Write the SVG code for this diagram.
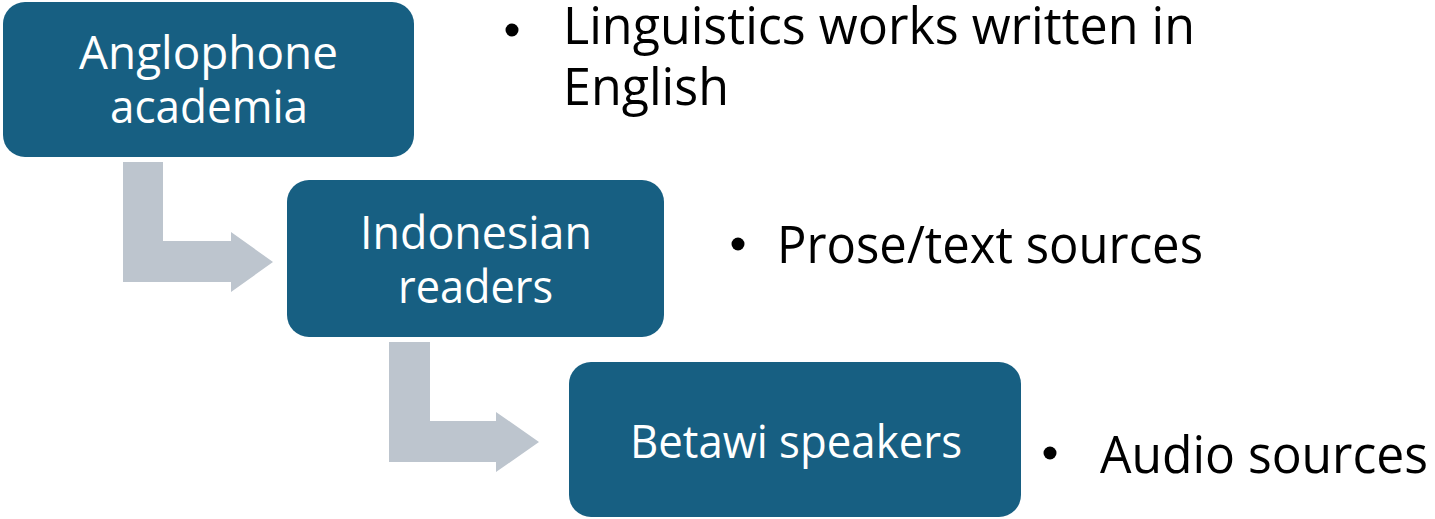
<svg xmlns="http://www.w3.org/2000/svg" width="1435" height="519" viewBox="0 0 1435 519">
<style>
.box{fill:#175F82}
.arrow{fill:#BDC5CE}
.bt{font-family:"Open Sans","Noto Sans",sans-serif;font-size:46px;fill:#FFFFFF;text-anchor:start}
.lt{font-family:"Open Sans","Noto Sans",sans-serif;font-size:51px;fill:#000000}
.dot{fill:#000000}
</style>
<rect width="1435" height="519" fill="#FFFFFF"/>
<g id="connectors">
<path class="arrow" d="M123,162 H163 V241 H231 V232 L273,262 L231,292 V282 H123 Z"/>
<path class="arrow" d="M389,342 H430 V421 H496 V412 L539,442 L496,472 V462 H389 Z"/>
</g>
<g id="node-anglophone">
<rect class="box" x="3" y="2" width="411" height="155" rx="22"/>
<text class="bt"><tspan x="79" y="69" textLength="259" lengthAdjust="spacingAndGlyphs">Anglophone</tspan><tspan x="110" y="123" textLength="198" lengthAdjust="spacingAndGlyphs">academia</tspan></text>
</g>
<g id="node-indonesian">
<rect class="box" x="287" y="180" width="377" height="157" rx="22"/>
<text class="bt"><tspan x="360" y="249" textLength="232" lengthAdjust="spacingAndGlyphs">Indonesian</tspan><tspan x="398" y="303" textLength="155" lengthAdjust="spacingAndGlyphs">readers</tspan></text>
</g>
<g id="node-betawi">
<rect class="box" x="569" y="362" width="452" height="155" rx="22"/>
<text class="bt" x="630" y="458" textLength="332" lengthAdjust="spacingAndGlyphs">Betawi speakers</text>
</g>
<g id="bullets">
<circle class="dot" cx="512" cy="30" r="6.5"/>
<text class="lt"><tspan x="563" y="44" textLength="632" lengthAdjust="spacingAndGlyphs">Linguistics works written in</tspan><tspan x="563" y="105" textLength="166" lengthAdjust="spacingAndGlyphs">English</tspan></text>
<circle class="dot" cx="738" cy="244" r="6.5"/>
<text class="lt" x="777" y="263" textLength="426" lengthAdjust="spacingAndGlyphs">Prose/text sources</text>
<circle class="dot" cx="1050" cy="453" r="6.5"/>
<text class="lt" x="1100" y="473" textLength="328" lengthAdjust="spacingAndGlyphs">Audio sources</text>
</g>
</svg>
